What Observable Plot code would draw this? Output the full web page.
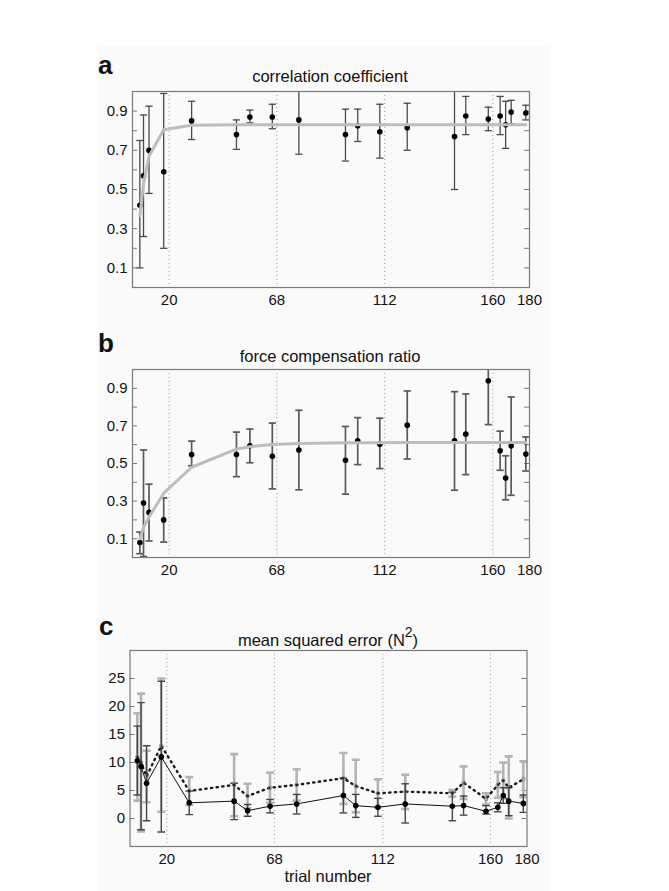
<!DOCTYPE html>
<html><head><meta charset="utf-8">
<script src="https://cdn.jsdelivr.net/npm/d3@7"></script>
<script src="https://cdn.jsdelivr.net/npm/@observablehq/plot@0.6"></script>
<style>
html,body{margin:0;padding:0;background:#fff;}
#root{position:relative;width:669px;height:891px;overflow:hidden;font-family:"Liberation Sans",Arial,Helvetica,sans-serif;color:#111;}
.bg{position:absolute;left:98px;top:45px;width:452px;height:846px;background:#fafafa;}
.title{position:absolute;font-size:16.5px;line-height:16px;white-space:nowrap;transform:translateX(-50%);}
.letter{position:absolute;font-size:26px;line-height:26px;font-weight:bold;}
sup.s{font-size:14px;position:relative;top:-2px;}
</style></head><body>
<div id="root">
  <div class="bg"></div>
  <div class="letter" style="left:98px;top:52px">a</div>
  <div class="title" style="left:330px;top:68px">correlation coefficient</div>
  <div class="letter" style="left:98px;top:330px">b</div>
  <div class="title" style="left:330px;top:348px">force compensation ratio</div>
  <div class="letter" style="left:99px;top:613px">c</div>
  <div class="title" style="left:328px;top:626px">mean squared error (N<sup class="s">2</sup>)</div>
  <div class="title" style="left:328px;top:868px">trial number</div>
</div>
<script>
// ---- data ----
const trials = [4, 6, 9, 17, 30, 50, 56, 66, 77, 96, 101, 110, 122, 143, 148, 158, 164, 167, 170, 178];
const xTickLabels = [20, 68, 112, 160, 180];
const xGrid = [20, 68, 112, 160];
const xBreaks = [0, 20, 68, 112, 160, 180];

// a: correlation coefficient
const corrMean = [0.42, 0.57, 0.70, 0.59, 0.85, 0.78, 0.87, 0.87, 0.855, 0.78, 0.825, 0.795, 0.815, 0.77, 0.875, 0.86, 0.875, 0.83, 0.895, 0.89];
const corrLow  = [0.10, 0.26, 0.48, 0.20, 0.755, 0.705, 0.84, 0.81, 0.68, 0.645, 0.745, 0.66, 0.70, 0.50, 0.78, 0.80, 0.78, 0.71, 0.835, 0.855];
const corrHigh = [0.75, 0.88, 0.925, 0.99, 0.95, 0.855, 0.905, 0.935, 1.03, 0.91, 0.91, 0.935, 0.94, 1.045, 0.975, 0.92, 0.975, 0.95, 0.955, 0.93];
const corrFit  = [0.365, 0.53, 0.67, 0.805, 0.828, 0.83, 0.83, 0.83, 0.83, 0.83, 0.83, 0.83, 0.83, 0.83, 0.83, 0.83, 0.83, 0.83, 0.83, 0.83];

// b: force compensation ratio
const fcMean = [0.08, 0.29, 0.24, 0.20, 0.548, 0.548, 0.594, 0.538, 0.572, 0.517, 0.621, 0.603, 0.704, 0.621, 0.656, 0.94, 0.568, 0.423, 0.594, 0.55];
const fcLow  = [0.02, 0.005, 0.088, 0.082, 0.488, 0.43, 0.504, 0.365, 0.36, 0.337, 0.494, 0.473, 0.524, 0.358, 0.441, 0.707, 0.464, 0.307, 0.331, 0.46];
const fcHigh = [0.135, 0.572, 0.39, 0.317, 0.619, 0.667, 0.683, 0.715, 0.783, 0.697, 0.744, 0.741, 0.886, 0.882, 0.87, 1.17, 0.672, 0.541, 0.854, 0.641];
const fcFit  = [0.10, 0.16, 0.215, 0.342, 0.48, 0.577, 0.589, 0.601, 0.607, 0.61, 0.611, 0.611, 0.612, 0.612, 0.612, 0.612, 0.612, 0.612, 0.612, 0.612];

// c: mean squared error (solid series and dotted series)
const mseMean = [10.3, 9.3, 6.3, 11.0, 2.8, 3.1, 1.4, 2.2, 2.6, 4.1, 2.3, 2.0, 2.6, 2.2, 2.3, 1.3, 2.0, 4.1, 3.1, 2.7];
const mseLow  = [4.2, -2.0, -0.4, -2.4, 0.7, -0.2, 0.4, 1.0, 0.8, 1.0, 0.2, 0.4, -0.8, -0.4, 0.6, 0.8, 1.2, 2.7, 0.5, 1.1];
const mseHigh = [16.5, 20.7, 13.0, 24.5, 4.9, 6.3, 2.5, 3.4, 4.3, 7.2, 4.3, 3.6, 6.2, 4.7, 4.0, 2.3, 2.8, 5.5, 5.5, 4.2];
const mse2Mean = [11.0, 10.0, 7.5, 13.0, 4.9, 6.0, 4.0, 5.5, 6.0, 7.2, 5.8, 4.5, 4.8, 4.5, 6.4, 3.5, 6.0, 6.8, 5.5, 7.0];
const mse2Low  = [3.2, -2.3, 2.9, 1.2, 2.4, 0.4, 1.8, 2.8, 3.2, 2.6, 1.1, 2.0, 1.7, 3.9, 3.5, 2.5, 3.7, 3.6, 0.0, 3.8];
const mse2High = [18.8, 22.3, 12.1, 25.0, 7.4, 11.5, 6.2, 8.2, 8.8, 11.7, 10.5, 7.0, 7.8, 5.1, 9.3, 4.5, 8.3, 10.0, 11.1, 10.2];

const ratioTicks = [0.1, 0.3, 0.5, 0.7, 0.9];
const ratioMinor = [0.1, 0.2, 0.3, 0.4, 0.5, 0.6, 0.7, 0.8, 0.9];
const mseTicks = [0, 5, 10, 15, 20, 25];

// ---- drawing ----
const root = document.getElementById("root");
const idx = trials.map((_, i) => i);
const FONT = '"Liberation Sans", Arial, Helvetica, sans-serif';
const capSymbol = {draw(ctx, size) { const w = Math.sqrt(size / Math.PI); ctx.moveTo(-w, 0); ctx.lineTo(w, 0); }};

function errorBars(low, high, stroke, strokeWidth, capR) {
  return [
    Plot.ruleX(idx, {x: i => trials[i], y1: i => low[i], y2: i => high[i], stroke, strokeWidth, clip: true}),
    Plot.dot(idx, {x: i => trials[i], y: i => low[i], symbol: capSymbol, r: capR, stroke, strokeWidth, fill: "none", clip: true}),
    Plot.dot(idx, {x: i => trials[i], y: i => high[i], symbol: capSymbol, r: capR, stroke, strokeWidth, fill: "none", clip: true})
  ];
}

function panel({frameTop, frameH, left, right, xRange, yDomain, yTicks, yMinor, yFormat, marks}) {
  const W = 669, mt = 6, mb = 32;
  const fw = right - left;
  const chart = Plot.plot({
    width: W, height: mt + frameH + mb,
    marginLeft: left, marginRight: W - right, marginTop: mt, marginBottom: mb,
    style: {fontFamily: FONT, fontSize: "15px", color: "#111", background: "transparent", overflow: "visible"},
    x: {type: "linear", domain: xBreaks, range: xRange},
    y: {type: "linear", domain: yDomain},
    marks: [
      Plot.ruleX(xGrid, {x: d => d, stroke: "#9a9a9a", strokeDasharray: "1,3"}),
      Plot.tickY(yMinor, {y: d => d, insetRight: fw - 5, stroke: "#777"}),
      Plot.tickY(yMinor, {y: d => d, insetLeft: fw - 5, stroke: "#777"}),
      ...marks,
      Plot.frame({stroke: "#7a7a7a", strokeWidth: 1.2}),
      Plot.axisX(xTickLabels, {tickSize: 0, tickPadding: 7, fontSize: 15, tickFormat: d => String(d)}),
      Plot.axisY(yTicks, {tickSize: 0, tickPadding: 5, fontSize: 15, tickFormat: yFormat})
    ]
  });
  chart.style.position = "absolute";
  chart.style.left = "0px";
  chart.style.top = (frameTop - mt) + "px";
  root.appendChild(chart);
}

const rangeAB = [132, 168.7, 276.3, 384.2, 492.3, 529];
const rangeC = [129.5, 166.3, 274, 382.3, 490, 526.5];

// a
panel({
  frameTop: 91, frameH: 196, left: 132, right: 529, xRange: rangeAB,
  yDomain: [0, 1], yTicks: ratioTicks, yMinor: ratioMinor, yFormat: d => d.toFixed(1),
  marks: [
    ...errorBars(corrLow, corrHigh, "#4a4a4a", 1.3, 3.6),
    Plot.dot(idx, {x: i => trials[i], y: i => corrMean[i], r: 2.8, fill: "#000"}),
    Plot.line(idx, {x: i => trials[i], y: i => corrFit[i], stroke: "#bdbdbd", strokeWidth: 3})
  ]
});

// b
panel({
  frameTop: 369, frameH: 188, left: 132, right: 529, xRange: rangeAB,
  yDomain: [0, 1], yTicks: ratioTicks, yMinor: ratioMinor, yFormat: d => d.toFixed(1),
  marks: [
    ...errorBars(fcLow, fcHigh, "#5a5a5a", 1.7, 3.6),
    Plot.dot(idx, {x: i => trials[i], y: i => fcMean[i], r: 2.8, fill: "#000"}),
    Plot.line(idx, {x: i => trials[i], y: i => fcFit[i], stroke: "#bdbdbd", strokeWidth: 3})
  ]
});

// c
panel({
  frameTop: 650, frameH: 196, left: 129.5, right: 526.5, xRange: rangeC,
  yDomain: [-5, 30], yTicks: mseTicks, yMinor: mseTicks, yFormat: d => String(d),
  marks: [
    ...errorBars(mse2Low, mse2High, "#b4b4b4", 2.6, 4),
    ...errorBars(mseLow, mseHigh, "#444", 1.4, 3.8),
    Plot.line(idx, {x: i => trials[i], y: i => mse2Mean[i], stroke: "#1a1a1a", strokeWidth: 2.4, strokeDasharray: "1.3,4.4"}),
    Plot.line(idx, {x: i => trials[i], y: i => mseMean[i], stroke: "#111", strokeWidth: 1}),
    Plot.dot(idx, {x: i => trials[i], y: i => mse2Mean[i], r: 1.8, stroke: "#777", strokeWidth: 0.8, fill: "none"}),
    Plot.dot(idx, {x: i => trials[i], y: i => mseMean[i], r: 2.8, fill: "#000"})
  ]
});
</script>
</body></html>
